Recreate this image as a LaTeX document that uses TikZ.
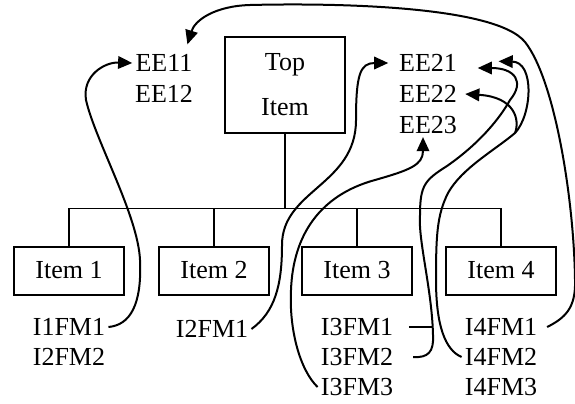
\documentclass[tikz,border=0pt]{standalone}
\usepackage{fontspec}
\setmainfont{Liberation Serif}
\usetikzlibrary{arrows.meta}

\tikzset{
  lbl/.style={inner sep=2pt, outer sep=0pt},
  itembox/.style={draw, line width=1.2pt, minimum width=66pt, minimum height=28.8pt, inner sep=0pt},
  tree/.style={line width=1pt},
  link/.style={line width=1.2pt, -{Triangle[length=8.5pt,width=7.5pt]}},
  tie/.style={line width=1.2pt}
}

\begin{document}
\begin{tikzpicture}[x=0.6pt,y=-0.6pt,font=\fontsize{15.6}{18}\selectfont]
\useasboundingbox (0,0) rectangle (575,403);
\node[draw, line width=1.2pt, minimum width=72pt, minimum height=57.6pt, align=center, inner sep=0pt] (top) at (285,85) {Top\\[9pt]Item};
\node[itembox] (item1) at (69,270.5) {Item 1};
\node[itembox] (item2) at (214,270.5) {Item 2};
\node[itembox] (item3) at (357,270.5) {Item 3};
\node[itembox] (item4) at (501,270.5) {Item 4};
\coordinate (bus) at (285,209);
\draw[tree] (top.south) -- (bus);
\draw[tree] (item1.north) -- ++(0,-37) -| (item4.north);
\draw[tree] (item2.north) -- (item2.north |- bus);
\draw[tree] (item3.north) -- (item3.north |- bus);

\node[lbl] (ee11) at (164,63) {EE11};
\node[lbl] (ee12) at (164,94) {EE12};
\node[lbl] (ee21) at (428,63) {EE21};
\node[lbl] (ee22) at (428,94) {EE22};
\node[lbl] (ee23) at (428,125) {EE23};
\node[lbl] (i1fm1) at (69,327) {I1FM1};
\node[lbl] (i2fm2) at (69,357) {I2FM2};
\node[lbl] (i2fm1) at (212,329) {I2FM1};
\node[lbl] (i3fm1) at (357,327) {I3FM1};
\node[lbl] (i3fm2) at (357,357) {I3FM2};
\node[lbl] (i3fm3) at (357,387) {I3FM3};
\node[lbl] (i4fm1) at (501,327) {I4FM1};
\node[lbl] (i4fm2) at (501,357) {I4FM2};
\node[lbl] (i4fm3) at (501,387) {I4FM3};

\draw[link] (i1fm1.east) .. controls (130,325) and (142,305) .. (140,260)
  .. controls (138,215) and (95,140) .. (86,100)
  .. controls (82,75) and (105,62) .. (ee11.west);
\draw[link] ([xshift=4pt]i4fm1.east) .. controls (565,318) and (576,308) .. (575,280)
  .. controls (574,200) and (555,80) .. (525,42)
  .. controls (495,5) and (330,3) .. (250,5)
  .. controls (215,6) and (195,20) .. ([xshift=-5pt,yshift=4pt]ee11.north east);
\draw[link] (i2fm1.east) .. controls (275,312) and (282,285) .. (282,245)
  .. controls (282,190) and (356,185) .. (356,120)
  .. controls (356,75) and (360,63) .. ([xshift=-4.5pt]ee21.west);
\draw[link] (i3fm3.west) .. controls (300,370) and (289,330) .. (291,290)
  .. controls (293,235) and (320,195) .. (375,180)
  .. controls (410,170) and (423,165) .. ([xshift=-3pt]ee23.south);
\coordinate (m31) at (433,327);
\draw[tie] ([xshift=7.5pt]i3fm1.east) -- (m31);
\draw[link] ([xshift=10pt]i3fm2.east) .. controls (428,358) and (434,352) .. (433,335)
  .. controls (432,290) and (418,240) .. (420,215)
  .. controls (420,185) and (425,180) .. (447,166)
  .. controls (480,143) and (500,118) .. (510,100)
  .. controls (525,82) and (515,68) .. ([xshift=10.5pt,yshift=-3pt]ee21.east);
\coordinate (j4) at (515,133);
\draw[link] (i4fm2.west) .. controls (445,350) and (436,325) .. (436,280)
  .. controls (436,235) and (437,215) .. (448,193)
  .. controls (462,168) and (495,150) .. (j4)
  .. controls (532,115) and (535,62) .. ([xshift=23pt,yshift=1pt]ee21.east);
\draw[link] (j4) .. controls (520,120) and (515,97) .. ([xshift=3pt]ee22.east);
\end{tikzpicture}
\end{document}
